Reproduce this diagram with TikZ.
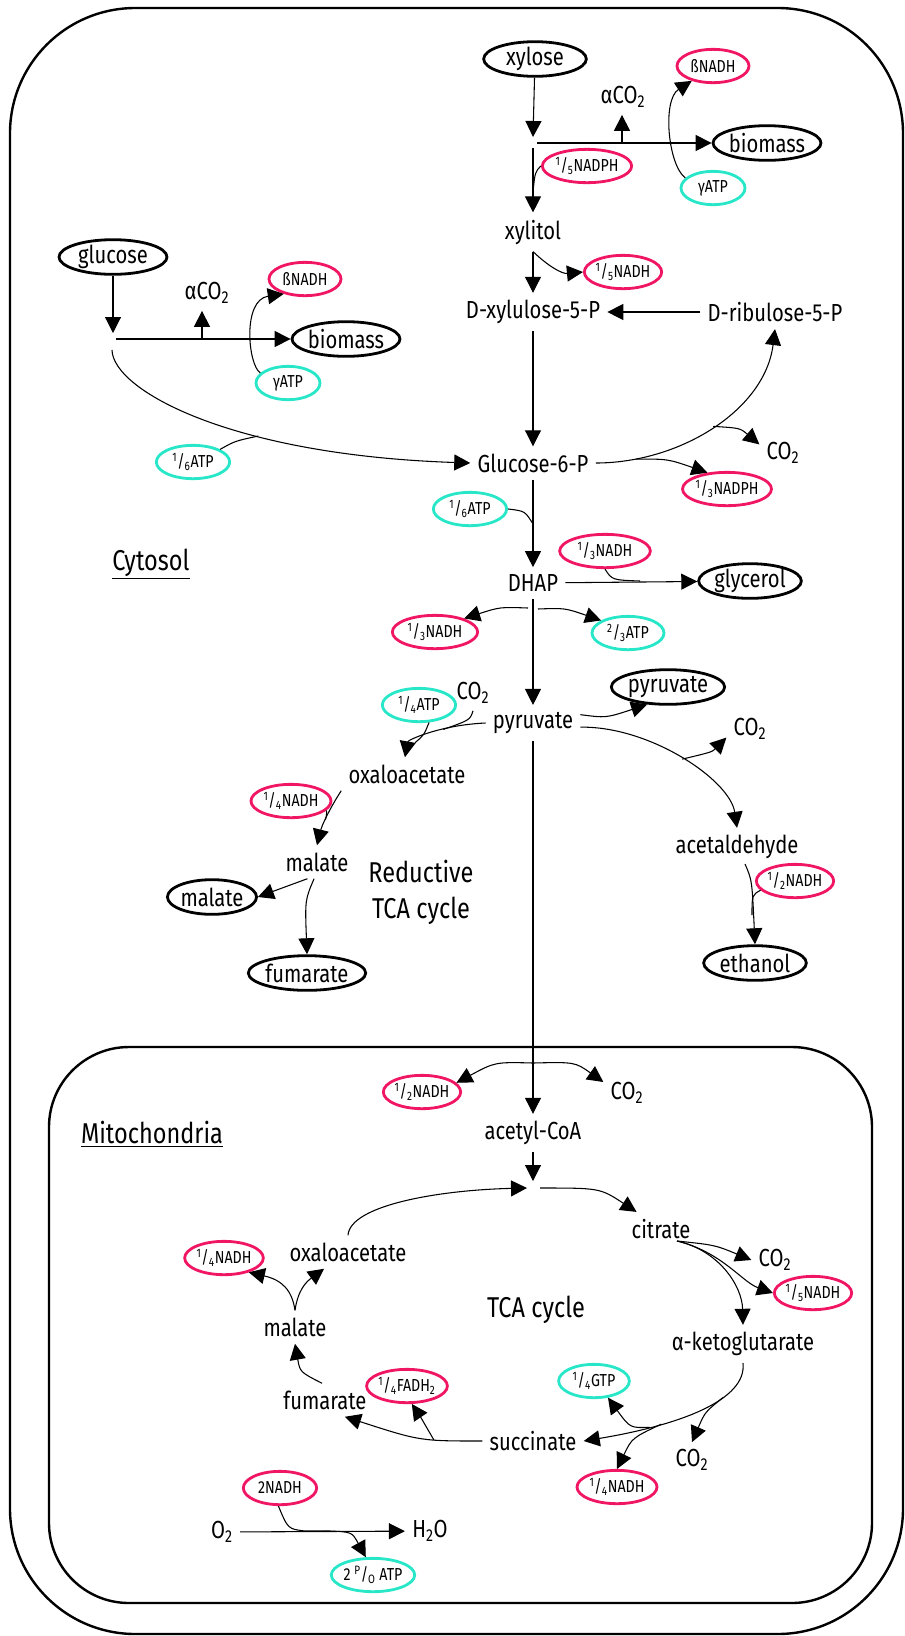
\documentclass[tikz,border=0pt]{standalone}
\usepackage{fontspec}
\setmainfont{Fira Sans}[FakeStretch=0.82]
\usepackage{xcolor}
\usepackage{tikz}
\usetikzlibrary{arrows.meta,shapes.geometric}

\definecolor{nadred}{RGB}{240,22,100}
\definecolor{atpcyan}{RGB}{40,230,200}
\newcommand\fr[2]{\textsuperscript{#1}/\textsubscript{#2}}
\newcommand\sub[1]{\textsubscript{#1}}

\tikzset{
  met/.style={inner sep=1.5pt, outer sep=4pt, font=\fontsize{18.5}{22}\selectfont},
  lbl/.style={inner sep=1.5pt, align=center, font=\fontsize{21.5}{27}\selectfont},
  prod/.style={ellipse, draw, line width=2.1pt, inner sep=0pt, minimum width=77pt, minimum height=26pt, font=\fontsize{18.5}{22}\selectfont},
  nadh/.style={ellipse, draw=nadred, line width=2.1pt, inner sep=0pt, minimum width=60pt, minimum height=25pt, font=\fontsize{13}{15}\selectfont},
  atp/.style={nadh, draw=atpcyan},
  arr/.style={-{Triangle[length=12pt,width=12pt]}, line width=0.8pt},
  ln/.style={line width=0.8pt},
}

\begin{document}
\begin{tikzpicture}[x=0.75pt,y=0.75pt,yscale=-1,xscale=1]
	\useasboundingbox (0,0) rectangle (904,1636);

	%Frames
	\draw[line width=1.8pt, rounded corners=94pt] (10,8) rectangle (903,1634);
	\draw[line width=1.8pt, rounded corners=60pt] (49,1047) rectangle (872,1603);

	% Text Node
	\node (cyto) at (151,564) [lbl] {\underline{Cytosol}};
	\node (mito) at (152,1134) [lbl] {\underline{Mitochondria}};
	\node (rtca) at (421,892) [lbl] {Reductive\\TCA cycle};
	\node (tca) at (536,1310) [lbl] {TCA cycle};

	% Text Node -- xylose
	\node (xylose) at (535,59) [prod] {xylose};
	\node (bmx) at (767,143) [prod] {biomass};
	\node (co2x) at (623,97) [met] {αCO\sub{2}};
	\node (bnx) at (713,66) [nadh, minimum width=54pt] {ßNADH};
	\node (gx) at (713,188) [atp, minimum width=48pt] {γATP};
	\node (npx) at (587,166) [nadh, minimum width=67pt] {\fr{1}{5}NADPH};
	\node (xylitol) at (533,232) [met] {xylitol};
	\node (nx) at (623,272) [nadh, minimum width=58pt] {\fr{1}{5}NADH};
	\node (dxyl) at (533,312) [met] {D-xylulose-5-P};
	\node (dribu) at (775,312) [met] {D-ribulose-5-P};

	% Text Node -- glucose
	\node (glucose) at (113,257) [prod, minimum width=81pt] {glucose};
	\node (bmg) at (346,339) [prod] {biomass};
	\node (co2g) at (207,293) [met] {αCO\sub{2}};
	\node (bng) at (305,279) [nadh, minimum width=54pt] {ßNADH};
	\node (gg) at (288,383) [atp, minimum width=48pt] {γATP};
	\node (ag) at (193,462) [atp, minimum width=55pt] {\fr{1}{6}ATP};

	% Text Node -- Glucose-6-P, DHAP
	\node (g6p) at (533,463) [met] {Glucose-6-P};
	\node (co2p) at (783,453) [met] {CO\sub{2}};
	\node (ng6) at (727,489) [nadh, minimum width=64pt] {\fr{1}{3}NADPH};
	\node (a6) at (470,509) [atp, minimum width=55pt] {\fr{1}{6}ATP};
	\node (dhap) at (533,583) [met] {DHAP};
	\node (glyc) at (750,581) [prod] {glycerol};
	\node (n3a) at (605,551) [nadh, minimum width=68pt] {\fr{1}{3}NADH};
	\node (n3b) at (435,632) [nadh, minimum width=64pt] {\fr{1}{3}NADH};
	\node (a23) at (628,633) [atp, minimum width=54pt] {\fr{2}{3}ATP};

	% Text Node -- pyruvate
	\node (pyr) at (533,723) [met] {pyruvate};
	\node (pyx) at (668,687) [prod, minimum width=71pt] {pyruvate};
	\node (co2a) at (750,729) [met] {CO\sub{2}};
	\node (acet) at (737,847) [met] {acetaldehyde};
	\node (n2e) at (795,881) [nadh, minimum width=58pt] {\fr{1}{2}NADH};
	\node (eth) at (755,963) [prod] {ethanol};
	\node (co2r) at (473,693) [met] {CO\sub{2}};
	\node (a4) at (419,705) [atp, minimum width=55pt] {\fr{1}{4}ATP};
	\node (oxa1) at (407,774) [met] {oxaloacetate};
	\node (n4r) at (291,801) [nadh, minimum width=60pt] {\fr{1}{4}NADH};
	\node (mal1) at (317,862) [met] {malate};
	\node (mal2) at (212,897) [prod, minimum width=66pt] {malate};
	\node (fum1) at (307,973) [prod] {fumarate};

	% Text Node -- mitochondria
	\node (acoa) at (533,1133) [met] {acetyl-CoA};
	\node (n2m) at (422,1092) [nadh, minimum width=58pt] {\fr{1}{2}NADH};
	\node (co2m) at (627,1093) [met] {CO\sub{2}};
	\node (cit) at (661,1229) [met] {citrate};
	\node (oxa2) at (348,1252) [met] {oxaloacetate};
	\node (co2c) at (775,1260) [met] {CO\sub{2}};
	\node (n5c) at (813,1293) [nadh, minimum width=58pt] {\fr{1}{5}NADH};
	\node (akg) at (743,1344) [met] {α-ketoglutarate};
	\node (succ) at (533,1441) [met] {succinate};
	\node (co2k) at (692,1460) [met] {CO\sub{2}};
	\node (gtp) at (594,1381) [atp, minimum width=53pt] {\fr{1}{4}GTP};
	\node (n4k) at (617,1487) [nadh, minimum width=60pt] {\fr{1}{4}NADH};
	\node (fum2) at (325,1400) [met] {fumarate};
	\node (fadh) at (407,1386) [nadh, minimum width=54pt] {\fr{1}{4}FADH\sub{2}};
	\node (mal3) at (295,1327) [met] {malate};
	\node (n4m) at (224,1258) [nadh, minimum width=59pt] {\fr{1}{4}NADH};
	\node (o2) at (222,1532) [met] {O\sub{2}};
	\node (h2o) at (430,1531) [met] {H\sub{2}O};
	\node (nn) at (280,1488) [nadh, minimum width=55pt] {2NADH};
	\node (atpo) at (373,1575) [atp, minimum width=62pt] {2 \fr{P}{O} ATP};

	% Coordinates
	\coordinate (jx) at (533,137);
	\coordinate (jxr) at (537,143);
	\coordinate (jxd) at (533,148);
	\coordinate (bx) at (622,143);
	\coordinate (mx) at (533,192);
	\coordinate (jg) at (113,333);
	\coordinate (jgr) at (116,339);
	\coordinate (jgd) at (112,350);
	\coordinate (bg) at (202,339);
	\coordinate (ma) at (533,524);
	\coordinate (mg) at (640,581);
	\coordinate (d1) at (528,608);
	\coordinate (d2) at (538,609);
	\coordinate (ea) at (745,864);
	\coordinate (me) at (752,915);
	\coordinate (mm) at (533,1063);
	\coordinate (jt) at (533,1181);
	\coordinate (jtl) at (527,1188);
	\coordinate (jtr) at (540,1188);
	\coordinate (cb) at (677,1241);
	\coordinate (ox1) at (305,1531);
	\coordinate (ox2) at (330,1531);

	%Straight Lines -- xylose
	\draw[arr] (xylose) -- (jx);
	\draw[arr] (jxr) -- (bmx.west);
	\draw[arr] (bx) -- (bx |- co2x.south);
	\draw[arr] (jxd) -- (xylitol);
	\draw[arr] (xylitol) -- (dxyl);
	\draw[arr] (dribu) -- (dxyl);
	%Curve Lines
	\draw[arr] (gx.160) .. controls (668,165) and (662,100) .. (bnx.215);
	\draw[ln] (npx.west) .. controls (535,172) .. (mx);
	\draw[arr] (xylitol.south) .. controls (548,266) and (562,274) .. (nx.west);

	%Straight Lines -- glucose
	\draw[arr] (glucose) -- (jg);
	\draw[arr] (jgr) -- (bmg.west);
	\draw[arr] (bg) -- (bg |- co2g.south);
	%Curve Lines
	\draw[arr] (gg.160) .. controls (248,365) and (242,300) .. (bng.215);
	\draw[arr] (jgd) .. controls (113,390) and (230,455) .. (g6p.west) coordinate[pos=0.64] (bc);
	\draw[ln] (ag.25) .. controls (235,441) .. (bc);

	%Straight Lines -- Glucose-6-P, DHAP
	\draw[arr] (dxyl) -- (g6p);
	\draw[arr] (g6p) -- (dhap);
	\draw[arr] (dhap) -- (glyc);
	\draw[arr] (dhap) -- (pyr);
	%Curve Lines
	\draw[arr] (g6p.east) .. controls (680,463) and (765,410) .. (dribu.south) coordinate[pos=0.5] (bp1) coordinate[pos=0.16] (bp2);
	\draw[arr] (bp1) .. controls (740,428) .. (co2p.160);
	\draw[arr] (bp2) .. controls (668,459) .. (ng6.140);
	\draw[ln] (a6.east) .. controls (525,511) .. (ma);
	\draw[ln] (n3a.south) .. controls (612,580) .. (mg);
	\draw[arr] (d1) .. controls (500,607) .. (n3b.25);
	\draw[arr] (d2) .. controls (565,608) .. (a23.155);

	%Curve Lines -- pyruvate
	\draw[arr] (pyr.10) .. controls (606,718) .. (pyx.220);
	\draw[arr] (pyr.-5) .. controls (650,726) and (730,780) .. (acet.north) coordinate[pos=0.5] (bq);
	\draw[arr] (bq) .. controls (712,752) .. (co2a.200);
	\draw[arr] (ea) .. controls (752,880) .. (eth.north);
	\draw[ln] (n2e.195) .. controls (752,895) .. (me);
	\draw[arr] (pyr.west) .. controls (440,725) and (408,740) .. (oxa1.97) coordinate[pos=0.35] (br1) coordinate[pos=0.7] (br2);
	\draw[ln] (co2r.south) .. controls (470,720) .. (br1);
	\draw[ln] (a4.-60) .. controls (424,735) .. (br2);
	\draw[arr] (oxa1.south west) .. controls (330,808) and (322,825) .. (mal1.north) coordinate[pos=0.55] (br3);
	\draw[ln] (n4r.-15) .. controls (327,812) .. (br3);
	\draw[arr] (mal1.240) .. controls (290,885) .. (mal2.east);
	\draw[arr] (mal1.-100) .. controls (305,900) .. (fum1.north);

	%Straight Lines -- mitochondria
	\draw[arr] (pyr) -- (acoa);
	\draw[arr] (acoa) -- (jt);
	\draw[arr] (o2) -- (h2o);
	%Curve Lines
	\draw[arr] (mm) .. controls (495,1062) .. (n2m.15);
	\draw[arr] (mm) .. controls (575,1062) .. (co2m.155);
	\draw[arr] (jtr) .. controls (600,1188) .. (cit.145);
	\draw[arr] (oxa2.north) .. controls (350,1205) and (440,1190) .. (jtl);
	\draw[arr] (cb) .. controls (715,1245) .. (co2c.west);
	\draw[arr] (cb) .. controls (722,1252) and (742,1282) .. (n5c.west);
	\draw[arr] (cb) .. controls (718,1250) and (742,1285) .. (akg.north);
	\draw[arr] (akg.south) .. controls (747,1400) and (680,1425) .. (succ.east) coordinate[pos=0.35] (bk1) coordinate[pos=0.75] (bk2) coordinate[pos=0.7] (bk3);
	\draw[arr] (bk1) .. controls (705,1412) .. (co2k.north);
	\draw[arr] (bk2) .. controls (630,1428) .. (gtp.-50);
	\draw[arr] (bk3) .. controls (632,1438) .. (n4k.north);
	\draw[arr] (succ.west) .. controls (420,1441) .. (fum2.-40) coordinate[pos=0.35] (bf);
	\draw[arr] (bf) .. controls (428,1428) .. (fadh.-75);
	\draw[arr] (fum2.100) .. controls (300,1372) .. (mal3.south);
	\draw[arr] (mal3.north) .. controls (292,1290) and (282,1280) .. (n4m.-30);
	\draw[arr] (mal3.north) .. controls (298,1290) and (306,1282) .. (oxa2.215);
	\draw[arr] (nn.-95) .. controls (288,1529) .. (ox1) -- (ox2) .. controls (352,1532) .. (atpo.112);
\end{tikzpicture}
\end{document}
